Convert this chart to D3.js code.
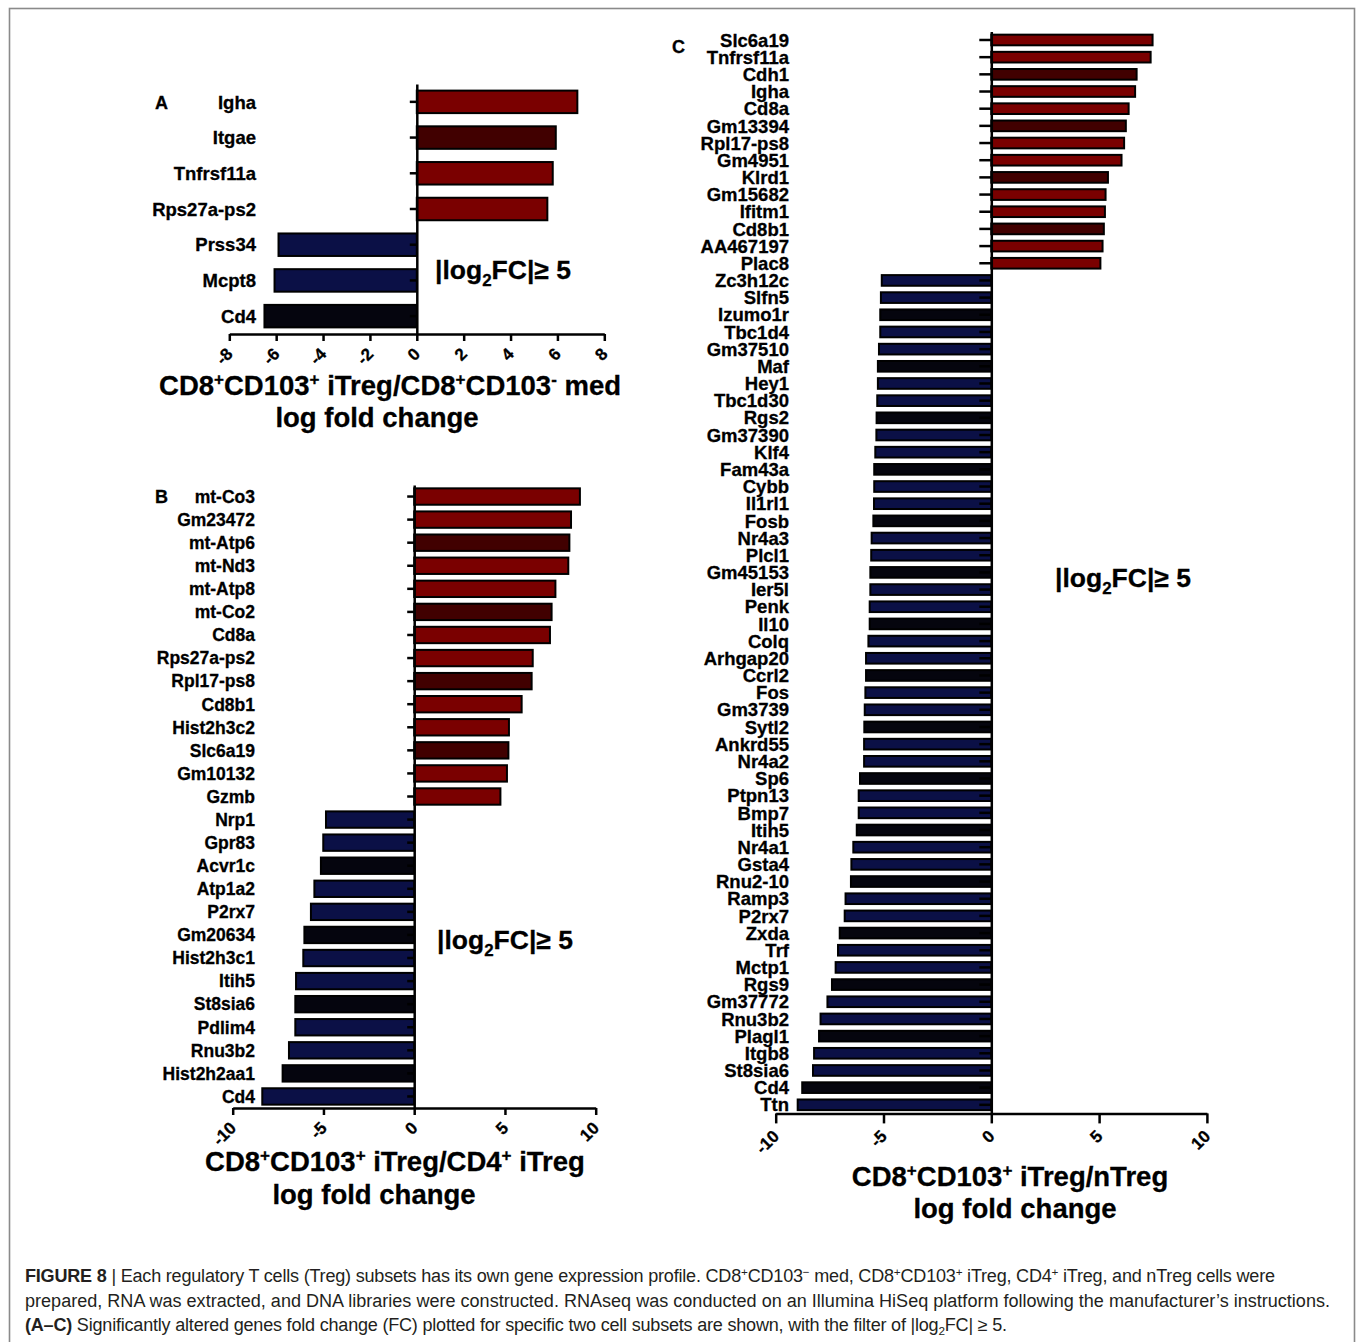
<!DOCTYPE html>
<html>
<head>
<meta charset="utf-8">
<script src="https://cdn.jsdelivr.net/npm/d3@7"></script>
<style>
  html, body { margin: 0; padding: 0; background: #fff; }
  svg { display: block; }
</style>
</head>
<body>
<svg id="fig" width="1358" height="1342"></svg>
<script>
// ---- Panel A: CD8+CD103+ iTreg vs CD8+CD103- med ----
const genesA = ["Igha", "Itgae", "Tnfrsf11a", "Rps27a-ps2", "Prss34", "Mcpt8", "Cd4"];
const log2fcA = [6.85, 5.93, 5.8, 5.57, -5.9, -6.07, -6.5];
const ticksA = [-8, -6, -4, -2, 0, 2, 4, 6, 8];

// ---- Panel B: CD8+CD103+ iTreg vs CD4+ iTreg ----
const genesB = ["mt-Co3", "Gm23472", "mt-Atp6", "mt-Nd3", "mt-Atp8", "mt-Co2", "Cd8a",
  "Rps27a-ps2", "Rpl17-ps8", "Cd8b1", "Hist2h3c2", "Slc6a19", "Gm10132", "Gzmb",
  "Nrp1", "Gpr83", "Acvr1c", "Atp1a2", "P2rx7", "Gm20634", "Hist2h3c1", "Itih5",
  "St8sia6", "Pdlim4", "Rnu3b2", "Hist2h2aa1", "Cd4"];
const log2fcB = [9.13, 8.64, 8.55, 8.49, 7.78, 7.57, 7.48,
  6.53, 6.47, 5.92, 5.22, 5.19, 5.11, 4.75,
  -4.86, -5.01, -5.14, -5.5, -5.69, -6.05, -6.11, -6.51,
  -6.55, -6.55, -6.9, -7.25, -8.37];
const ticksB = [-10, -5, 0, 5, 10];

// ---- Panel C: CD8+CD103+ iTreg vs nTreg ----
const genesC = ["Slc6a19", "Tnfrsf11a", "Cdh1", "Igha", "Cd8a", "Gm13394", "Rpl17-ps8",
  "Gm4951", "Klrd1", "Gm15682", "Ifitm1", "Cd8b1", "AA467197", "Plac8",
  "Zc3h12c", "Slfn5", "Izumo1r", "Tbc1d4", "Gm37510", "Maf", "Hey1", "Tbc1d30",
  "Rgs2", "Gm37390", "Klf4", "Fam43a", "Cybb", "Il1rl1", "Fosb", "Nr4a3", "Plcl1",
  "Gm45153", "Ier5l", "Penk", "Il10", "Colq", "Arhgap20", "Ccrl2", "Fos", "Gm3739",
  "Sytl2", "Ankrd55", "Nr4a2", "Sp6", "Ptpn13", "Bmp7", "Itih5", "Nr4a1", "Gsta4",
  "Rnu2-10", "Ramp3", "P2rx7", "Zxda", "Trf", "Mctp1", "Rgs9", "Gm37772", "Rnu3b2",
  "Plagl1", "Itgb8", "St8sia6", "Cd4", "Ttn"];
const log2fcC = [7.48, 7.39, 6.74, 6.67, 6.37, 6.24, 6.16,
  6.04, 5.41, 5.3, 5.27, 5.22, 5.16, 5.06,
  -5.08, -5.12, -5.15, -5.15, -5.21, -5.26, -5.26, -5.29,
  -5.32, -5.33, -5.38, -5.43, -5.43, -5.44, -5.47, -5.55, -5.57,
  -5.61, -5.61, -5.64, -5.64, -5.7, -5.81, -5.81, -5.84, -5.87,
  -5.89, -5.9, -5.9, -6.09, -6.15, -6.15, -6.24, -6.4, -6.49,
  -6.51, -6.76, -6.8, -7.03, -7.11, -7.22, -7.39, -7.6, -7.92,
  -7.99, -8.22, -8.27, -8.77, -8.98];
const ticksC = [-10, -5, 0, 5, 10];

// Bar fill shades
const FILL = { up: "#7a0000", upDark: "#410000", down: "#0b1046", downDark: "#05050e" };
const darkGenesA = ["Itgae", "Cd4"];
const FONT = "'Liberation Sans', Arial, Helvetica, sans-serif";

const svg = d3.select("#fig");

// outer figure frame
svg.append("rect")
  .attr("x", 9.5).attr("y", 8.5).attr("width", 1345).attr("height", 1420)
  .attr("fill", "none").attr("stroke", "#8a8a8a").attr("stroke-width", 1.6);

// text with super/subscript segments
function richText(g, x, y, segs, fs, opts = {}) {
  const t = g.append("text")
    .attr("x", x).attr("y", y)
    .attr("font-size", fs)
    .attr("font-weight", opts.weight || "bold")
    .attr("text-anchor", opts.anchor || "middle")
    .attr("font-family", opts.family || FONT)
    .attr("fill", opts.fill || "#000");
  if (opts.heavy) t.attr("stroke", "#000").attr("stroke-width", opts.heavy);
  let shift = 0;
  segs.forEach(s => {
    const [str, kind, w] = typeof s === "string" ? [s, null, null] : s;
    const target = kind === "sup" ? -0.36 * fs : kind === "sub" ? 0.26 * fs : 0;
    const ts = t.append("tspan").attr("dy", target - shift).text(str);
    if (kind) ts.attr("font-size", fs * (opts.scriptScale || 0.62));
    if (w) ts.attr("font-weight", w);
    shift = target;
  });
  return t;
}

function drawPanel(cfg) {
  const g = svg.append("g");
  const x = d3.scaleLinear().domain(cfg.domain).range(cfg.xRange);
  const y = d3.scaleBand().domain(cfg.genes).range(cfg.yRange)
    .paddingInner(cfg.pad).paddingOuter(cfg.pad / 2);

  const rows = cfg.genes.map((gene, i) => ({ gene, v: cfg.values[i], dark: cfg.isDark(gene, i) }));

  // bars
  g.append("g").selectAll("rect").data(rows).join("rect")
    .attr("x", d => x(Math.min(0, d.v)))
    .attr("width", d => Math.abs(x(d.v) - x(0)))
    .attr("y", d => y(d.gene))
    .attr("height", y.bandwidth())
    .attr("fill", d => d.v >= 0 ? (d.dark ? FILL.upDark : FILL.up) : (d.dark ? FILL.downDark : FILL.down))
    .attr("stroke", "#000")
    .attr("stroke-width", 2);

  // category axis at zero
  const yAxis = g.append("g")
    .attr("transform", `translate(${x(0)},0)`)
    .call(d3.axisLeft(y).tickSize(cfg.yTick).tickSizeOuter(0).tickFormat(() => ""));
  yAxis.selectAll("path, line").attr("stroke", "#000").attr("stroke-width", 2.5);

  // gene labels
  g.append("g").selectAll("text").data(rows).join("text")
    .attr("x", cfg.labelX)
    .attr("y", d => y(d.gene) + y.bandwidth() / 2 + cfg.labelFs * 0.36)
    .attr("text-anchor", "end")
    .attr("font-family", FONT)
    .attr("font-weight", "bold")
    .attr("font-size", cfg.labelFs)
    .attr("stroke", "#000").attr("stroke-width", 0.3)
    .text(d => d.gene);

  // value axis
  const xAxis = g.append("g")
    .attr("transform", `translate(0,${cfg.yRange[1]})`)
    .call(d3.axisBottom(x).tickValues(cfg.ticks).tickSize(cfg.xTick).tickSizeOuter(0)
      .tickFormat(d => String(d)));
  xAxis.selectAll("path, line").attr("stroke", "#000").attr("stroke-width", 2.5);
  xAxis.selectAll("text")
    .attr("x", 0).attr("y", 0).attr("dy", null)
    .attr("transform", `translate(4,${cfg.xTick + 14}) rotate(-45)`)
    .attr("text-anchor", "end")
    .attr("font-family", FONT)
    .attr("font-weight", "bold")
    .attr("font-size", 17)
    .attr("stroke", "#000").attr("stroke-width", 0.3)
    .attr("fill", "#000");

  // panel letter
  g.append("text").attr("x", cfg.letter[1]).attr("y", cfg.letter[2])
    .attr("font-family", FONT).attr("font-weight", "bold").attr("font-size", 18)
    .attr("stroke", "#000").attr("stroke-width", 0.3)
    .text(cfg.letter[0]);

  // threshold note
  richText(g, cfg.note[0], cfg.note[1],
    ["|log", ["2", "sub"], "FC|\u2265 5"], 26.5, { anchor: "start", scriptScale: 0.64, heavy: 0.3 });

  // axis title
  richText(g, cfg.title1[0], cfg.title1[1], cfg.titleSegs, 27.5, { heavy: 0.3 });
  richText(g, cfg.title2[0], cfg.title2[1], ["log fold change"], 27.5, { heavy: 0.3 });
}

const rankDark = (genes, values) => {
  // every third bar within each sign group uses the darker shade
  const idx = [];
  let up = 0, down = 0;
  values.forEach(v => { if (v >= 0) { idx.push(up % 3 === 2); up++; } else { idx.push(down % 3 === 2); down++; } });
  return (gene, i) => idx[i];
};

drawPanel({
  genes: genesA, values: log2fcA, ticks: ticksA, domain: [-8, 8],
  xRange: [229.3, 604.3], yRange: [84, 334], pad: 0.37,
  yTick: 7, xTick: 7, labelX: 256, labelFs: 18.5,
  isDark: gene => darkGenesA.includes(gene),
  letter: ["A", 155, 109], note: [435, 279],
  titleSegs: ["CD8", ["+", "sup"], "CD103", ["+", "sup"], " iTreg/CD8", ["+", "sup"], "CD103", ["-", "sup"], " med"],
  title1: [390, 395], title2: [377, 427]
});

drawPanel({
  genes: genesB, values: log2fcB, ticks: ticksB, domain: [-10, 10],
  xRange: [232.7, 595.7], yRange: [485, 1108], pad: 0.29,
  yTick: 7, xTick: 7, labelX: 255, labelFs: 17.5,
  isDark: rankDark(genesB, log2fcB),
  letter: ["B", 155, 503], note: [437, 949],
  titleSegs: ["CD8", ["+", "sup"], "CD103", ["+", "sup"], " iTreg/CD4", ["+", "sup"], " iTreg"],
  title1: [395, 1171], title2: [374, 1204]
});

drawPanel({
  genes: genesC, values: log2fcC, ticks: ticksC, domain: [-10, 10],
  xRange: [775.7, 1206.9], yRange: [31.4, 1113.4], pad: 0.38,
  yTick: 12, xTick: 10, labelX: 789, labelFs: 18.5,
  isDark: rankDark(genesC, log2fcC),
  letter: ["C", 672, 53], note: [1055, 587],
  titleSegs: ["CD8", ["+", "sup"], "CD103", ["+", "sup"], " iTreg/nTreg"],
  title1: [1010, 1186], title2: [1015, 1218]
});

// ---- figure caption ----
const cap = svg.append("g");
const capLines = [
  { y: 1282, width: 1250, segs: [["FIGURE 8", null, "bold"], " | Each regulatory T cells (Treg) subsets has its own gene expression profile. CD8", ["+", "sup"], "CD103", ["\u2212", "sup"], " med, CD8", ["+", "sup"], "CD103", ["+", "sup"], " iTreg, CD4", ["+", "sup"], " iTreg, and nTreg cells were"] },
  { y: 1306.5, width: 1305, segs: ["prepared, RNA was extracted, and DNA libraries were constructed. RNAseq was conducted on an Illumina HiSeq platform following the manufacturer\u2019s instructions."] },
  { y: 1331, width: 982, segs: [["(A\u2013C)", null, "bold"], " Significantly altered genes fold change (FC) plotted for specific two cell subsets are shown, with the filter of |log", ["2", "sub"], "FC| \u2265 5."] }
];
const capNodes = capLines.map(l => richText(cap, 25, l.y, l.segs, 16,
  { anchor: "start", weight: "normal", fill: "#231f20", scriptScale: 0.65 }));
// fit caption to its measured column width
const natural = capNodes[1].node().getComputedTextLength();
const capFs = 16 * capLines[1].width / natural;
capNodes.forEach((t, i) => {
  t.attr("font-size", capFs);
  t.selectAll("tspan").each(function () {
    const ts = d3.select(this);
    if (ts.attr("font-size")) ts.attr("font-size", capFs * 0.65);
  });
  t.attr("textLength", capLines[i].width).attr("lengthAdjust", "spacing");
});
</script>
</body>
</html>
